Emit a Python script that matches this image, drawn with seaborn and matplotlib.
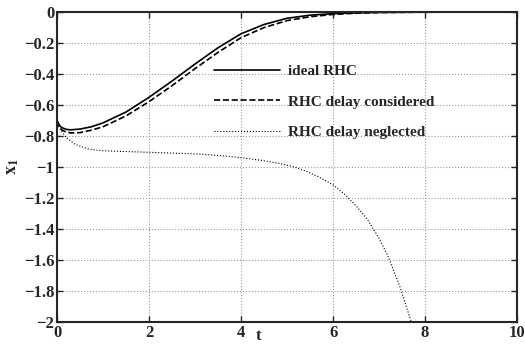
import numpy as np
import pandas as pd
import matplotlib.pyplot as plt
import seaborn as sns

sns.set_style('ticks')
plt.rcParams['font.family'] = ['Liberation Serif', 'DejaVu Serif']
plt.rcParams['font.weight'] = 'bold'
plt.rcParams['mathtext.fontset'] = 'stix'

# values
t_ideal = [0, 0.05, 0.1, 0.2, 0.3, 0.5, 0.75, 1.0, 1.5, 2.0, 2.5, 3.0, 3.5, 4.0, 4.5, 5.0, 5.5, 6.0, 6.5, 7.0, 8.0, 9.0, 10.0]
x_ideal = [-0.70, -0.73, -0.745, -0.757, -0.76, -0.755, -0.74, -0.715, -0.645, -0.55, -0.445, -0.335, -0.23, -0.14, -0.08, -0.04, -0.02, -0.01, -0.005, -0.002, 0, 0, 0]
t_delay = [0, 0.05, 0.1, 0.2, 0.3, 0.5, 0.75, 1.0, 1.5, 2.0, 2.5, 3.0, 3.5, 4.0, 4.5, 5.0, 5.5, 6.0, 6.5, 7.0, 8.0, 9.0, 10.0]
x_delay = [-0.70, -0.74, -0.76, -0.775, -0.78, -0.778, -0.762, -0.74, -0.67, -0.578, -0.475, -0.365, -0.26, -0.165, -0.1, -0.055, -0.03, -0.015, -0.007, -0.003, -0.001, 0, 0]
t_negl = [0, 0.1, 0.2, 0.4, 0.7, 1.0, 1.5, 2.0, 3.0, 3.5, 4.0, 4.4, 4.8, 5.1, 5.4, 5.7, 6.0, 6.25, 6.5, 6.75, 7.0, 7.2, 7.45, 7.7]
x_negl = [-0.72, -0.77, -0.81, -0.855, -0.885, -0.895, -0.9, -0.905, -0.915, -0.925, -0.94, -0.955, -0.975, -0.995, -1.025, -1.065, -1.115, -1.175, -1.25, -1.34, -1.46, -1.58, -1.77, -2.0]

labels = ['ideal RHC', 'RHC delay considered', 'RHC delay neglected']

df = pd.concat([
    pd.DataFrame({'t': t_ideal, 'x1': x_ideal, 'case': labels[0]}),
    pd.DataFrame({'t': t_delay, 'x1': x_delay, 'case': labels[1]}),
    pd.DataFrame({'t': t_negl, 'x1': x_negl, 'case': labels[2]}),
])

fig = plt.figure(figsize=(5.25, 3.45), dpi=100)
ax = fig.add_axes([0.1086, 0.0667, 0.8764, 0.8983])

styles = {labels[0]: '-', labels[1]: '--', labels[2]: ':'}
widths = {labels[0]: 1.2, labels[1]: 1.2, labels[2]: 0.8}
for lab in labels:
    sub = df[df['case'] == lab]
    sns.lineplot(data=sub, x='t', y='x1', ax=ax, color='black', linestyle=styles[lab],
                 linewidth=widths[lab], label=lab, estimator=None, sort=False)

ax.set_xlim(0, 10)
ax.set_ylim(-2, 0)
ax.set_xticks([0, 2, 4, 6, 8, 10])
ax.set_yticks(np.arange(-2, 0.01, 0.2))
ax.set_yticklabels(['\u22122', '\u22121.8', '\u22121.6', '\u22121.4', '\u22121.2', '\u22121',
                    '\u22120.8', '\u22120.6', '\u22120.4', '\u22120.2', '0'])
ax.grid(True, linestyle=':', color='#999999', linewidth=0.8)
ax.tick_params(direction='in', top=True, right=True, labelsize=12, length=4, width=1, pad=2)
for lbl in ax.get_xticklabels() + ax.get_yticklabels():
    lbl.set_fontweight('bold')
for sp in ax.spines.values():
    sp.set_linewidth(1.5)

ax.set_xlabel('t', fontsize=12, fontweight='bold')
ax.xaxis.set_label_coords(0.437, -0.018)
ax.set_ylabel(r'$\mathbf{x_1}$', fontsize=13, labelpad=2)

leg = ax.legend(loc='upper left', bbox_to_anchor=(0.312, 0.875), frameon=False,
                handlelength=4.3, handletextpad=0.5, labelspacing=1.1,
                prop={'weight': 'bold', 'size': 11})

fig.savefig('out.png', dpi=100)
